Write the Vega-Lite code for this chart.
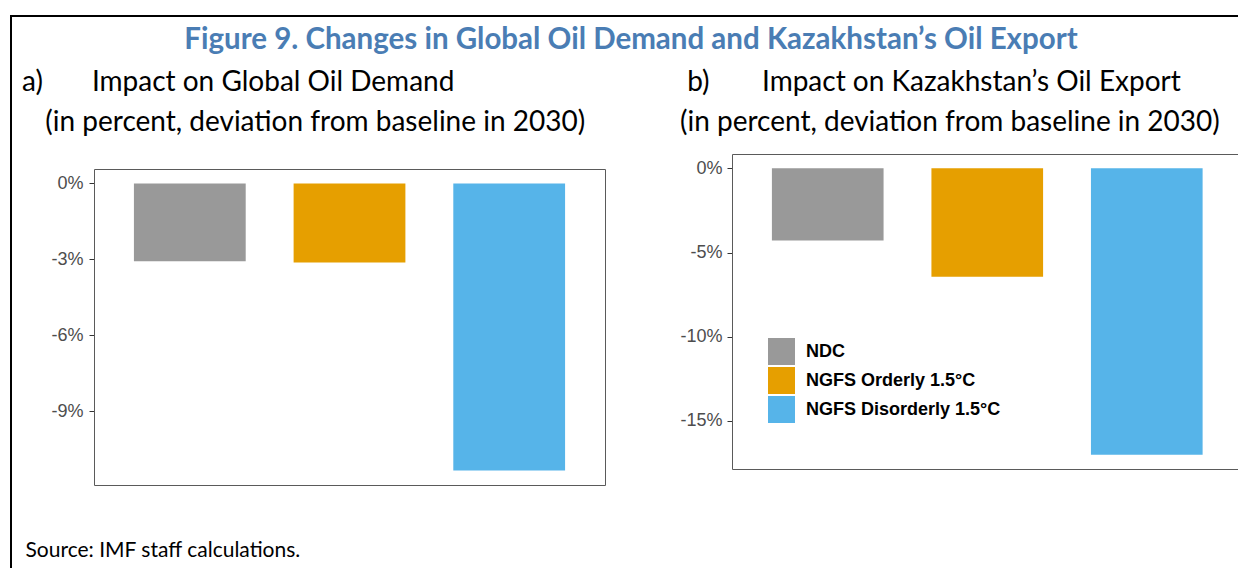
{
  "$schema": "https://vega.github.io/schema/vega-lite/v6.json",
  "background": "white",
  "autosize": {"type": "pad"},
  "padding": {"left": 10, "top": 15, "right": 0, "bottom": 0},
  "config": {
    "view": {"stroke": null},
    "font": "Lato",
    "axis": {"labelFont": "Liberation Sans", "titleFont": "Lato", "grid": false}
  },
  "spacing": -1,
  "hconcat": [
    {
      "width": 0.001,
      "height": 551,
      "data": {"values": []},
      "mark": "point",
      "view": {"stroke": "black", "strokeWidth": 2}
    },
    {
      "spacing": 13,
      "vconcat": [
        {
          "width": 1224,
          "height": 0.001,
          "data": {"values": []},
          "mark": "point",
          "view": {"stroke": "black", "strokeWidth": 2},
          "title": {
            "text": "Figure 9. Changes in Global Oil Demand and Kazakhstan’s Oil Export",
            "orient": "bottom",
            "anchor": "middle",
            "frame": "group",
            "offset": 10,
            "dx": 6,
            "font": "Lato",
            "fontSize": 29.5,
            "fontWeight": "bold",
            "color": "#4a7db4"
          }
        },
        {
          "spacing": 0,
          "hconcat": [
            {
              "width": 9,
              "height": 0.001,
              "data": {"values": []},
              "mark": "point"
            },
            {
              "spacing": 74,
              "resolve": {"scale": {"color": "independent"}},
              "hconcat": [
                {
                  "width": 511,
                  "height": 331,
                  "data": {"values": [
                    {"scenario": "NDC", "value": -3.08},
                    {"scenario": "NGFS Orderly 1.5°C", "value": -3.13},
                    {"scenario": "NGFS Disorderly 1.5°C", "value": -11.35}
                  ]},
                  "title": {
                    "text": "a)\u2002\u2002\u2002\u2009\u2009Impact on Global Oil Demand",
                    "subtitle": "\u200b\u2002\u2004(in percent, deviation from baseline in 2030)",
                    "anchor": "start",
                    "frame": "group",
                    "dx": -72,
                    "offset": 17,
                    "font": "Lato",
                    "fontSize": 28,
                    "fontWeight": "normal",
                    "color": "black",
                    "subtitleFont": "Lato",
                    "subtitleFontSize": 28,
                    "subtitleColor": "black",
                    "subtitlePadding": 12
                  },
                  "encoding": {
                    "x": {
                      "field": "scenario",
                      "type": "nominal",
                      "sort": ["NDC", "NGFS Orderly 1.5°C", "NGFS Disorderly 1.5°C"],
                      "scale": {"paddingInner": 0.3, "paddingOuter": 0.25}
                    },
                    "y": {
                      "field": "value",
                      "type": "quantitative",
                      "scale": {"domain": [-11.92, 0.57], "nice": false, "range": [331, 15]}
                    }
                  },
                  "layer": [
                    {
                      "mark": {"type": "bar"},
                      "encoding": {
                        "x": {
                          "field": "scenario",
                          "type": "nominal",
                          "sort": ["NDC", "NGFS Orderly 1.5°C", "NGFS Disorderly 1.5°C"],
                          "axis": {
                            "orient": "bottom",
                            "domain": true,
                            "domainColor": "#5a5a5a",
                            "ticks": false,
                            "labels": false,
                            "title": "Source: IMF staff calculations.",
                            "titleX": -69,
                            "titleY": 71,
                            "titleAlign": "left",
                            "titleAnchor": null,
                            "titleBaseline": "alphabetic",
                            "titleFont": "Lato",
                            "titleFontSize": 21,
                            "titleFontWeight": "normal",
                            "titleColor": "black"
                          }
                        },
                        "y": {
                          "field": "value",
                          "type": "quantitative",
                          "axis": {
                            "orient": "left",
                            "values": [0, -3, -6, -9],
                            "labelExpr": "datum.value + '%'",
                            "title": null,
                            "domain": true,
                            "domainColor": "#5a5a5a",
                            "tickColor": "#333333",
                            "tickSize": 5,
                            "labelPadding": 6,
                            "labelFontSize": 18,
                            "labelColor": "#4d4d4d"
                          }
                        },
                        "color": {
                          "field": "scenario",
                          "type": "nominal",
                          "scale": {
                            "domain": ["NDC", "NGFS Orderly 1.5°C", "NGFS Disorderly 1.5°C"],
                            "range": ["#999999", "#e69f00", "#56b4e9"]
                          },
                          "legend": null
                        }
                      }
                    },
                    {
                      "mark": {"type": "bar", "opacity": 0},
                      "encoding": {
                        "x": {
                          "field": "scenario",
                          "type": "nominal",
                          "sort": ["NDC", "NGFS Orderly 1.5°C", "NGFS Disorderly 1.5°C"],
                          "axis": {
                            "orient": "top",
                            "offset": -15,
                            "domain": true,
                            "domainColor": "#5a5a5a",
                            "ticks": false,
                            "labels": false,
                            "title": null
                          }
                        },
                        "y": {
                          "field": "value",
                          "type": "quantitative",
                          "axis": {
                            "orient": "right",
                            "domain": true,
                            "domainColor": "#5a5a5a",
                            "ticks": false,
                            "labels": false,
                            "title": null
                          }
                        }
                      }
                    }
                  ],
                  "resolve": {"axis": {"x": "independent", "y": "independent"}}
                },
                {
                  "width": 506,
                  "height": 315,
                  "data": {"values": [
                    {"scenario": "NDC", "value": -4.29},
                    {"scenario": "NGFS Orderly 1.5°C", "value": -6.43},
                    {"scenario": "NGFS Disorderly 1.5°C", "value": -17.0}
                  ]},
                  "title": {
                    "text": "\u200b\u00a0b)\u2002\u2002\u2002\u2009\u2009\u2009Impact on Kazakhstan’s Oil Export",
                    "subtitle": "(in percent, deviation from baseline in 2030)",
                    "anchor": "start",
                    "frame": "group",
                    "dx": -52,
                    "offset": 17,
                    "font": "Lato",
                    "fontSize": 28,
                    "fontWeight": "normal",
                    "color": "black",
                    "subtitleFont": "Lato",
                    "subtitleFontSize": 28,
                    "subtitleColor": "black",
                    "subtitlePadding": 12
                  },
                  "encoding": {
                    "x": {
                      "field": "scenario",
                      "type": "nominal",
                      "sort": ["NDC", "NGFS Orderly 1.5°C", "NGFS Disorderly 1.5°C"],
                      "scale": {"paddingInner": 0.3, "paddingOuter": 0.236, "align": 0.53}
                    },
                    "y": {
                      "field": "value",
                      "type": "quantitative",
                      "scale": {"domain": [-17.85, 0.85], "nice": false}
                    }
                  },
                  "layer": [
                    {
                      "mark": {"type": "bar"},
                      "encoding": {
                        "x": {
                          "field": "scenario",
                          "type": "nominal",
                          "sort": ["NDC", "NGFS Orderly 1.5°C", "NGFS Disorderly 1.5°C"],
                          "axis": {
                            "orient": "bottom",
                            "domain": true,
                            "domainColor": "#5a5a5a",
                            "ticks": false,
                            "labels": false,
                            "title": null
                          }
                        },
                        "y": {
                          "field": "value",
                          "type": "quantitative",
                          "axis": {
                            "orient": "left",
                            "values": [0, -5, -10, -15],
                            "labelExpr": "datum.value + '%'",
                            "title": null,
                            "domain": true,
                            "domainColor": "#5a5a5a",
                            "tickColor": "#333333",
                            "tickSize": 5,
                            "labelPadding": 5,
                            "labelFontSize": 18,
                            "labelColor": "#4d4d4d"
                          }
                        },
                        "color": {
                          "field": "scenario",
                          "type": "nominal",
                          "scale": {
                            "domain": ["NDC", "NGFS Orderly 1.5°C", "NGFS Disorderly 1.5°C"],
                            "range": ["#999999", "#e69f00", "#56b4e9"]
                          },
                          "legend": {
                            "orient": "none",
                            "legendX": 36,
                            "legendY": 184,
                            "title": null,
                            "symbolType": "square",
                            "symbolSize": 729,
                            "symbolStrokeWidth": 0,
                            "symbolOpacity": 1,
                            "labelFont": "Liberation Sans",
                            "labelFontSize": 18,
                            "labelFontWeight": "bold",
                            "labelColor": "black",
                            "labelLimit": 400,
                            "labelOffset": 11,
                            "rowPadding": 2,
                            "padding": 0
                          }
                        }
                      }
                    },
                    {
                      "mark": {"type": "bar", "opacity": 0},
                      "encoding": {
                        "x": {
                          "field": "scenario",
                          "type": "nominal",
                          "sort": ["NDC", "NGFS Orderly 1.5°C", "NGFS Disorderly 1.5°C"],
                          "axis": {
                            "orient": "top",
                            "domain": true,
                            "domainColor": "#5a5a5a",
                            "ticks": false,
                            "labels": false,
                            "title": null
                          }
                        },
                        "y": {"field": "value", "type": "quantitative"}
                      }
                    }
                  ],
                  "resolve": {"axis": {"x": "independent"}}
                }
              ]
            }
          ]
        }
      ]
    }
  ]
}
